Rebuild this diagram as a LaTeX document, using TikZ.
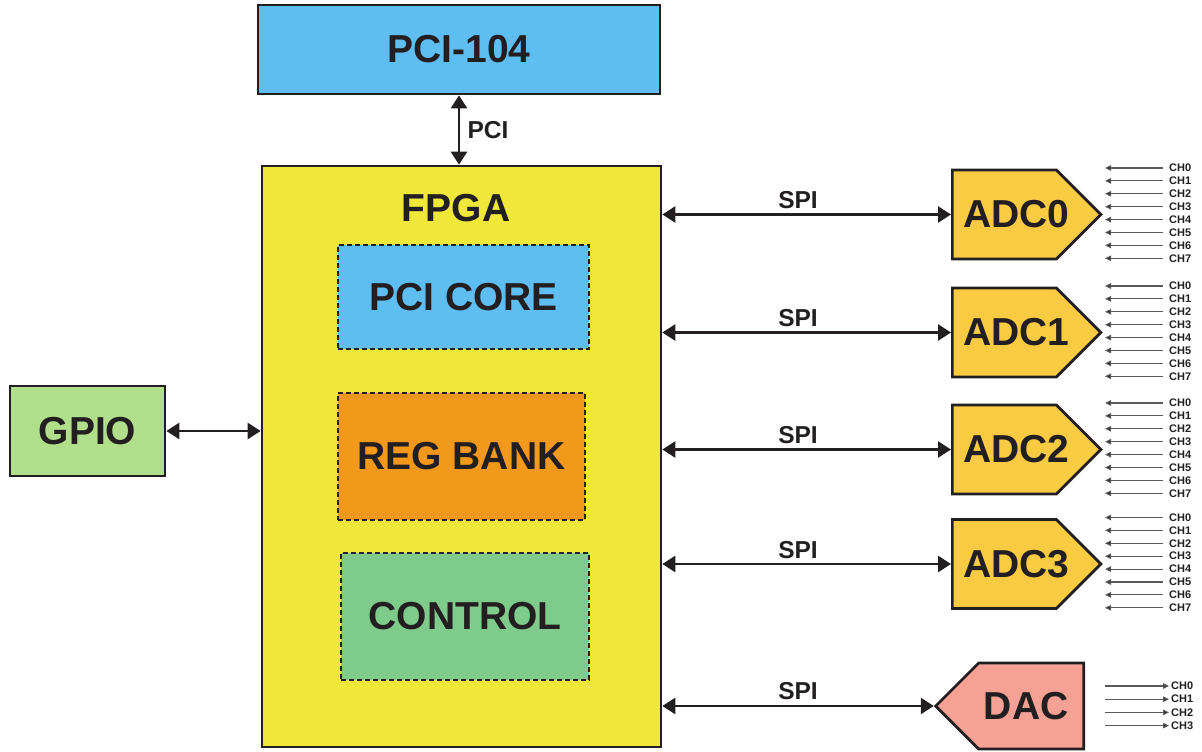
\documentclass[tikz,border=0pt]{standalone}
\usepackage{fontspec}
\setmainfont{Liberation Sans}
\usetikzlibrary{arrows.meta}
\usetikzlibrary{shapes.symbols}

\definecolor{inktext}{HTML}{231F20}
\definecolor{pciblue}{HTML}{5EBEF2}
\definecolor{fpgayellow}{HTML}{EFE838}
\definecolor{regorange}{HTML}{F2991B}
\definecolor{ctrlgreen}{HTML}{7ECB8C}
\definecolor{gpiogreen}{HTML}{B1DE8A}
\definecolor{adcyellow}{HTML}{F9CB42}
\definecolor{dacred}{HTML}{F5A195}

\tikzset{
  bigtext/.style={text=inktext, font=\fontsize{39}{46}\selectfont\bfseries},
  blockbox/.style={bigtext, draw=inktext, line width=2.7pt, inner sep=0pt},
  corebox/.style={bigtext, draw=inktext, line width=2pt, dash pattern=on 5pt off 3pt, inner sep=0pt},
  adcshape/.style={blockbox, fill=adcyellow, shape=signal, signal to=east, signal pointer angle=90,
    minimum width=148pt, minimum height=89pt, anchor=west},
  dacshape/.style={blockbox, fill=dacred, shape=signal, signal to=west, signal pointer angle=90,
    minimum width=147pt, minimum height=86pt, anchor=east},
  busarrow/.style={draw=inktext, line width=2.7pt, {Triangle[length=13pt,width=16pt]}-{Triangle[length=13pt,width=16pt]}},
  buslabel/.style={text=inktext, font=\fontsize{24.5}{28}\selectfont\bfseries, inner sep=0pt},
  chanline/.style={draw=black!65, line width=1.1pt, -{Triangle[length=6pt,width=5.5pt,fill=inktext]}},
  chanlabel/.style={text=inktext, font=\fontsize{11}{12}\selectfont\bfseries, inner sep=0pt, anchor=west},
}

\begin{document}
\begin{tikzpicture}[x=1pt,y=1pt,yscale=-1,xscale=1]
\useasboundingbox (0,0) rectangle (1202,752);

%Blocks
\node[blockbox, fill=pciblue, minimum width=402pt, minimum height=89pt] (pci104) at (459,49.5) {PCI-104};
\node[blockbox, fill=fpgayellow, minimum width=399pt, minimum height=581pt] (fpga) at (461.5,456.5) {};
\node[bigtext, inner sep=0pt] (fpgalabel) at (456,208) {FPGA};
\node[corebox, fill=pciblue, minimum width=251pt, minimum height=104pt] (pcicore) at (463.5,297) {PCI CORE};
\node[corebox, fill=regorange, minimum width=247pt, minimum height=127pt] (regbank) at (461.5,456.5) {REG BANK};
\node[corebox, fill=ctrlgreen, minimum width=248pt, minimum height=127pt] (control) at (465,616.5) {CONTROL};
\node[blockbox, fill=gpiogreen, minimum width=155pt, minimum height=90pt] (gpio) at (87.5,431) {GPIO};

%Buses
\draw[busarrow] (pci104.south) -- (pci104.south |- fpga.north);
\node[buslabel] (pcilabel) at (488,130) {PCI};
\draw[busarrow] (gpio.east) -- (gpio.east -| fpga.west);

%ADC blocks and their channels
\foreach \adc/\cy in {0/214.5,1/332.5,2/449.5,3/564}{
  \node[adcshape] (adc\adc) at (951,\cy) {\makebox[104pt][l]{\hspace*{11pt}ADC\adc}};
  \draw[busarrow] (fpga.east |- adc\adc.west) -- (adc\adc.west);
  \node[buslabel] (spi\adc) at (798,\cy-14) {SPI};
  \foreach \k in {0,...,7}{
    \node[chanlabel] (ch\adc-\k) at (1169,\cy-46.5+12.9*\k) {CH\k};
    \draw[chanline] ([xshift=-6pt]ch\adc-\k.west) -- ++(-58,0);
  }
}

%DAC block and its channels
\node[dacshape] (dac) at (1085,706) {\makebox[105pt]{DAC\hspace*{10pt}}};
\draw[busarrow] (fpga.east |- dac.west) -- (dac.west);
\node[buslabel] (spidac) at (798,691) {SPI};
\foreach \k in {0,...,3}{
  \node[chanlabel] (dacch\k) at (1171,686+13.2*\k) {CH\k};
  \draw[chanline] ([xshift=-66pt]dacch\k.west) -- ([xshift=-2pt]dacch\k.west);
}

\end{tikzpicture}
\end{document}
